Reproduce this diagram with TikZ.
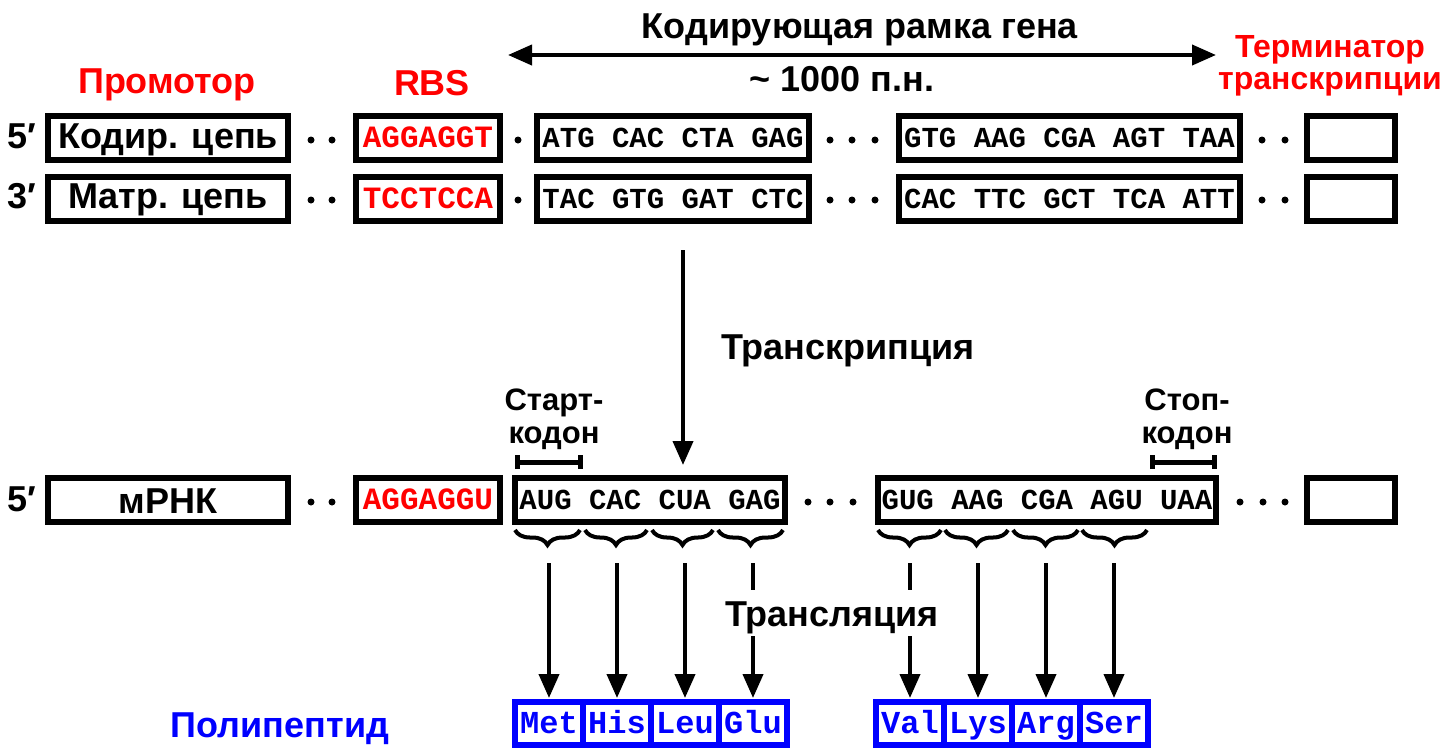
\documentclass[tikz,border=0pt]{standalone}
\usepackage{fontspec}
\setmainfont{Liberation Sans}
\newfontfamily\seqfont{Liberation Mono}
\usetikzlibrary{arrows.meta, positioning, decorations.pathreplacing}

\tikzset{
  seqbox/.style={draw, line width=6pt, inner sep=0pt, minimum height=44pt},
  seqtxt/.style={font=\seqfont\bfseries\fontsize{29}{29}\selectfont, text height=19pt, text depth=0pt},
  lbl/.style={font=\bfseries\fontsize{36}{40}\selectfont, text height=26pt, text depth=0pt},
  boxlbl/.style={lbl, text depth=6pt},
  sublbl/.style={font=\bfseries\fontsize{31}{33}\selectfont, align=center},
  aacell/.style={draw=blue, text=blue, line width=6pt, inner sep=0pt, outer sep=0pt,
    minimum width=68pt, minimum height=43pt, text height=20pt, text depth=0pt,
    font=\seqfont\bfseries\fontsize{32}{32}\selectfont},
  codbrace/.style={decorate, decoration={brace, mirror, amplitude=15pt}, line width=4pt},
  flow/.style={->, line width=4pt}
}

\begin{document}
\begin{tikzpicture}[x=1pt, y=-1pt, >={Triangle[length=24pt,width=20pt]}]
  \useasboundingbox (0,0) rectangle (1443,748);

  % 1. Gene: coding strand and template strand
  \node[lbl] (p5c) at (22,135) {5′};
  \node[seqbox, minimum width=240pt, boxlbl] (codst) at (168,138) {Кодир. цепь};
  \node[seqbox, minimum width=144pt, seqtxt, text=red, font=\seqfont\bfseries\fontsize{31}{31}\selectfont] (rbsc) at (428,138) {AGGAGGT};
  \node[seqbox, minimum width=272pt, seqtxt] (orfc1) at (673,138) {ATG CAC CTA GAG};
  \node[seqbox, minimum width=341pt, seqtxt] (orfc2) at (1069.5,138) {GTG AAG CGA AGT TAA};
  \node[seqbox, minimum width=88pt] (termc) at (1351,138) {};

  \node[lbl] (p3t) at (22,195) {3′};
  \node[seqbox, minimum width=240pt, boxlbl] (tmpst) at (168,198.5) {Матр. цепь};
  \node[seqbox, minimum width=144pt, seqtxt, text=red, font=\seqfont\bfseries\fontsize{31}{31}\selectfont] (rbst) at (428,198.5) {TCCTCCA};
  \node[seqbox, minimum width=272pt, seqtxt] (orft1) at (673,198.5) {TAC GTG GAT CTC};
  \node[seqbox, minimum width=341pt, seqtxt] (orft2) at (1069.5,198.5) {CAC TTC GCT TCA ATT};
  \node[seqbox, minimum width=88pt] (termt) at (1351,198.5) {};

  \foreach \x in {311,332,518,830,852,875,1262,1285} {
    \fill (\x,140) circle (3.5pt);
    \fill (\x,200) circle (3.5pt);
  }

  % 2. Labels above the gene
  \node[lbl, text=red] (prom) at (167,80) {Промотор};
  \node[lbl, text=red] (rbs) at (432,82.5) {RBS};
  \node[sublbl, text=red, font=\bfseries\fontsize{32}{32}\selectfont] (term) at (1330,66) {Терминатор\\транскрипции};
  \node[lbl] (orf) at (860,25) {Кодирующая рамка гена};
  \node[lbl] (orflen) at (842,78.5) {\textasciitilde{} 1000 п.н.};
  \coordinate (orfL) at (508,55);
  \coordinate (orfR) at (1216,55);
  \draw[<->, line width=4pt] (orfL) -- (orfR);

  % 3. Transcription
  \coordinate (txtop) at (683,250);
  \coordinate (txbot) at (683,465);
  \draw[flow] (txtop) -- (txbot);
  \node[lbl] (transcr) at (848,346) {Транскрипция};

  % 4. mRNA
  \node[lbl] (p5m) at (22,498.5) {5′};
  \node[seqbox, minimum width=240pt, lbl] (mrna) at (168,500) {мРНК};
  \node[seqbox, minimum width=144pt, seqtxt, text=red, font=\seqfont\bfseries\fontsize{31}{31}\selectfont] (rbsm) at (428,500) {AGGAGGU};
  \node[seqbox, minimum width=270pt, seqtxt] (orfm1) at (650,500) {AUG CAC CUA GAG};
  \node[seqbox, minimum width=338pt, seqtxt] (orfm2) at (1047,500) {GUG AAG CGA AGU UAA};
  \node[seqbox, minimum width=88pt] (termm) at (1351,500) {};
  \foreach \x in {311,332,808,830,853,1240,1263,1285}
    \fill (\x,502) circle (3.5pt);

  \node[sublbl] (startlbl) at (554,419) {Старт-\\кодон};
  \draw[{Bar[width=14pt]}-{Bar[width=14pt]}, line width=5pt] (515,462) -- (583,462);
  \node[sublbl] (stoplbl) at (1187,419) {Стоп-\\кодон};
  \draw[{Bar[width=14pt]}-{Bar[width=14pt]}, line width=5pt] (1150,462) -- (1217,462);

  \foreach \a/\b in {515/580, 585/647, 652/713, 718/783, 878/941, 945/1008, 1013/1078, 1082/1147}
    \draw[codbrace] (\a,530) -- (\b,530);

  % 5. Translation
  \node[aacell] (met) at (549,723.5) {Met};
  \node[aacell, right=0pt of met] (his) {His};
  \node[aacell, right=0pt of his] (leu) {Leu};
  \node[aacell, right=0pt of leu] (glu) {Glu};
  \node[aacell] (val) at (910,723.5) {Val};
  \node[aacell, right=0pt of val] (lys) {Lys};
  \node[aacell, right=0pt of lys] (arg) {Arg};
  \node[aacell, right=0pt of arg] (ser) {Ser};

  \coordinate (brtip) at (0,563);
  \foreach \c in {met,his,leu,glu,val,lys,arg,ser}
    \draw[flow, shorten >=4pt] (\c.north |- brtip) -- (\c.north);
  \node[lbl, fill=white, inner sep=10pt] (transl) at (832,613) {Трансляция};

  \node[lbl, text=blue] (poly) at (280,724) {Полипептид};
\end{tikzpicture}
\end{document}
